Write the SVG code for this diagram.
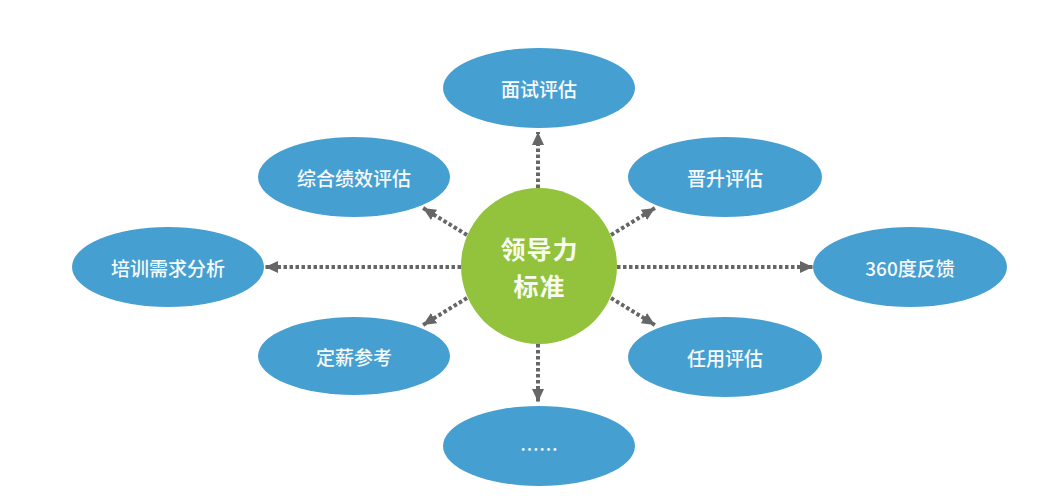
<svg xmlns="http://www.w3.org/2000/svg" width="1051" height="500" viewBox="0 0 1051 500">
  <style>
    .node ellipse { fill: #469fd1; }
    .lbl { fill: #f7fafc; font-family: "Noto Sans CJK SC", "Noto Sans", sans-serif; font-size: 19px; font-weight: 500; text-anchor: middle; dominant-baseline: central; }
    .center-lbl { fill: #f7fbf0; font-family: "Noto Sans CJK SC", "Noto Sans", sans-serif; font-size: 25px; font-weight: 700; text-anchor: middle; dominant-baseline: central; letter-spacing: 1px; }
    .conn { stroke: #666666; stroke-width: 4; stroke-dasharray: 3.5 2.5; fill: none; marker-end: url(#arrow); }
  </style>
  <defs>
    <marker id="arrow" markerUnits="userSpaceOnUse" markerWidth="13" markerHeight="13" viewBox="0 0 13 13" refX="13" refY="6.5" orient="auto">
      <path d="M0,0.5 L13,6.5 L0,12.5 Z" fill="#666666"/>
    </marker>
  </defs>
  <rect width="1051" height="500" fill="#ffffff"/>

  <g id="connectors">
    <line class="conn" x1="538" y1="188" x2="538" y2="132"/>
    <line class="conn" x1="538" y1="344" x2="538" y2="402"/>
    <line class="conn" x1="461" y1="267" x2="265" y2="267"/>
    <line class="conn" x1="617" y1="267" x2="813" y2="267"/>
    <line class="conn" x1="467" y1="235" x2="423" y2="208"/>
    <line class="conn" x1="611" y1="235" x2="655" y2="208"/>
    <line class="conn" x1="467" y1="298" x2="423" y2="325"/>
    <line class="conn" x1="611" y1="298" x2="655" y2="325"/>
  </g>

  <g id="node-center">
    <circle cx="539" cy="266" r="78" fill="#93c23c"/>
    <text class="center-lbl" x="539.5" y="248">领导力</text>
    <text class="center-lbl" x="539.5" y="285">标准</text>
  </g>

  <g id="node-interview" class="node">
    <ellipse cx="539" cy="88" rx="96" ry="40"/>
    <text class="lbl" x="539" y="88">面试评估</text>
  </g>
  <g id="node-performance" class="node">
    <ellipse cx="354" cy="177" rx="96" ry="40"/>
    <text class="lbl" x="354" y="177">综合绩效评估</text>
  </g>
  <g id="node-promotion" class="node">
    <ellipse cx="725" cy="177" rx="97" ry="40"/>
    <text class="lbl" x="725" y="177">晋升评估</text>
  </g>
  <g id="node-training" class="node">
    <ellipse cx="168" cy="267" rx="96" ry="40"/>
    <text class="lbl" x="168" y="267">培训需求分析</text>
  </g>
  <g id="node-feedback" class="node">
    <ellipse cx="910" cy="267" rx="97" ry="40"/>
    <text class="lbl" x="910" y="267">360度反馈</text>
  </g>
  <g id="node-salary" class="node">
    <ellipse cx="354" cy="356" rx="96" ry="39"/>
    <text class="lbl" x="354" y="356">定薪参考</text>
  </g>
  <g id="node-appointment" class="node">
    <ellipse cx="725" cy="357" rx="97" ry="40"/>
    <text class="lbl" x="725" y="357">任用评估</text>
  </g>
  <g id="node-more" class="node">
    <ellipse cx="539" cy="446" rx="96" ry="40"/>
    <text class="lbl" x="539" y="448">……</text>
  </g>
</svg>
